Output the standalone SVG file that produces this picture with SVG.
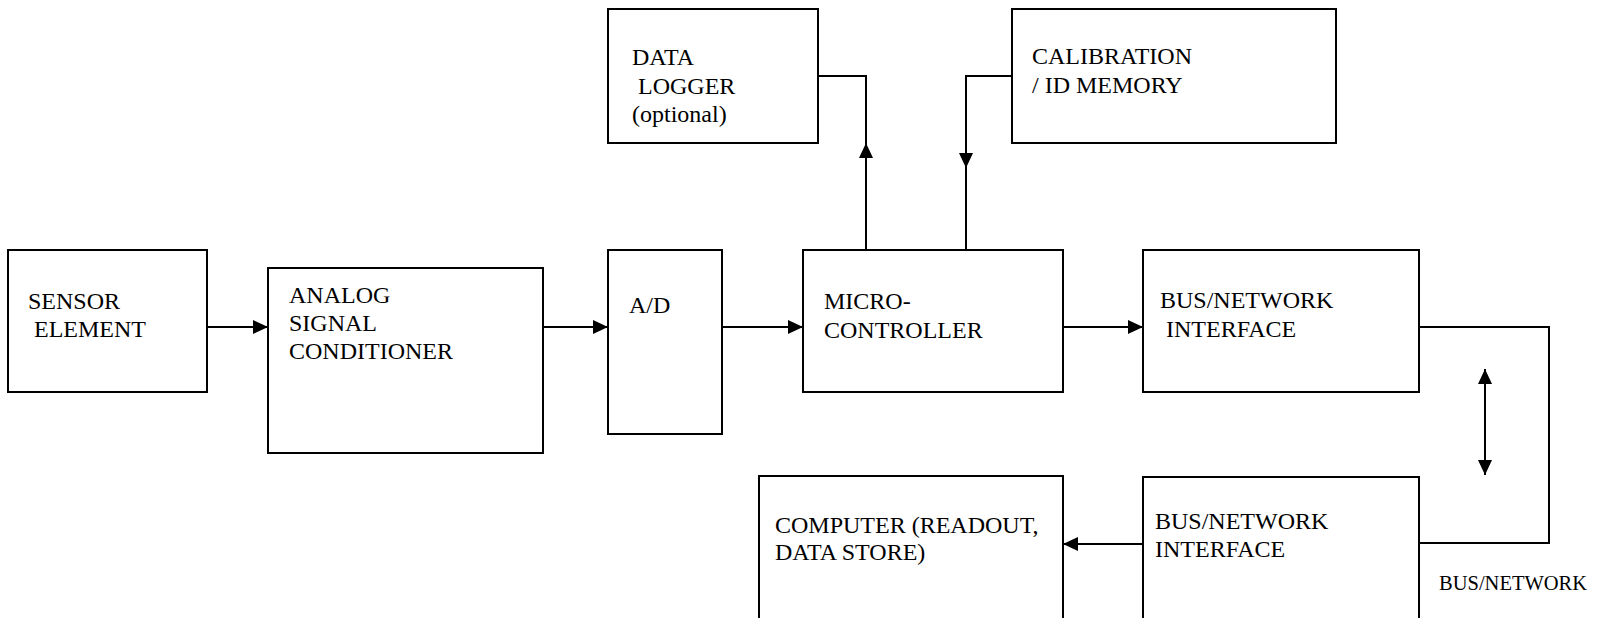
<svg xmlns="http://www.w3.org/2000/svg" width="1602" height="618" viewBox="0 0 1602 618">
  <style>
    .box { fill: #ffffff; stroke: #000000; stroke-width: 2; }
    .wire { fill: none; stroke: #000000; stroke-width: 2; }
    .lbl { font-family: "Liberation Serif", "Times New Roman", serif; font-size: 24px; fill: #000000; }
    .small { font-size: 20.5px; }
  </style>
  <defs>
    <marker id="head" markerUnits="userSpaceOnUse" markerWidth="16" markerHeight="15" refX="15" refY="7" orient="auto-start-reverse" viewBox="0 0 16 15">
      <path d="M0,0 L15,7 L0,14 z" fill="#000000"/>
    </marker>
  </defs>
  <rect width="1602" height="618" fill="#ffffff"/>

  <!-- signal chain -->
  <g id="sensor">
    <rect class="box" x="8" y="250" width="199" height="142"/>
    <text class="lbl" x="28" y="309">SENSOR</text>
    <text class="lbl" x="34" y="337">ELEMENT</text>
  </g>
  <g id="analog">
    <rect class="box" x="268" y="268" width="275" height="185"/>
    <text class="lbl" x="289" y="303">ANALOG</text>
    <text class="lbl" x="289" y="331">SIGNAL</text>
    <text class="lbl" x="289" y="359">CONDITIONER</text>
  </g>
  <g id="adc">
    <rect class="box" x="608" y="250" width="114" height="184"/>
    <text class="lbl" x="629" y="313">A/D</text>
  </g>
  <g id="micro">
    <rect class="box" x="803" y="250" width="260" height="142"/>
    <text class="lbl" x="824" y="309">MICRO-</text>
    <text class="lbl" x="824" y="338">CONTROLLER</text>
  </g>
  <g id="logger">
    <rect class="box" x="608" y="9" width="210" height="134"/>
    <text class="lbl" x="632" y="65">DATA</text>
    <text class="lbl" x="638" y="94">LOGGER</text>
    <text class="lbl" x="632" y="122">(optional)</text>
  </g>
  <g id="calibration">
    <rect class="box" x="1012" y="9" width="324" height="134"/>
    <text class="lbl" x="1032" y="64">CALIBRATION</text>
    <text class="lbl" x="1032" y="93">/ ID MEMORY</text>
  </g>
  <g id="bus-local">
    <rect class="box" x="1143" y="250" width="276" height="142"/>
    <text class="lbl" x="1160" y="308">BUS/NETWORK</text>
    <text class="lbl" x="1166" y="337">INTERFACE</text>
  </g>
  <g id="bus-remote">
    <rect class="box" x="1143" y="477" width="276" height="160"/>
    <text class="lbl" x="1155" y="529">BUS/NETWORK</text>
    <text class="lbl" x="1155" y="557">INTERFACE</text>
  </g>
  <g id="computer">
    <rect class="box" x="759" y="476" width="304" height="160"/>
    <text class="lbl" x="775" y="533">COMPUTER (READOUT,</text>
    <text class="lbl" x="775" y="560">DATA STORE)</text>
  </g>
  <g id="bus-label">
    <text class="lbl small" x="1439" y="590">BUS/NETWORK</text>
  </g>

  <!-- connectors -->
  <g id="connectors">
    <path class="wire" d="M207,327 H268" marker-end="url(#head)"/>
    <path class="wire" d="M543,327 H608" marker-end="url(#head)"/>
    <path class="wire" d="M722,327 H803" marker-end="url(#head)"/>
    <path class="wire" d="M1063,327 H1143" marker-end="url(#head)"/>
    <path class="wire" d="M866,250 V143" marker-end="url(#head)"/>
    <path class="wire" d="M866,144 V76 H818"/>
    <path class="wire" d="M1012,76 H966 V168" marker-end="url(#head)"/>
    <path class="wire" d="M966,167 V250"/>
    <path class="wire" d="M1419,327 H1549 V543 H1419"/>
    <path class="wire" d="M1485,369 V475" marker-start="url(#head)" marker-end="url(#head)"/>
    <path class="wire" d="M1143,544 H1063" marker-end="url(#head)"/>
  </g>
</svg>
